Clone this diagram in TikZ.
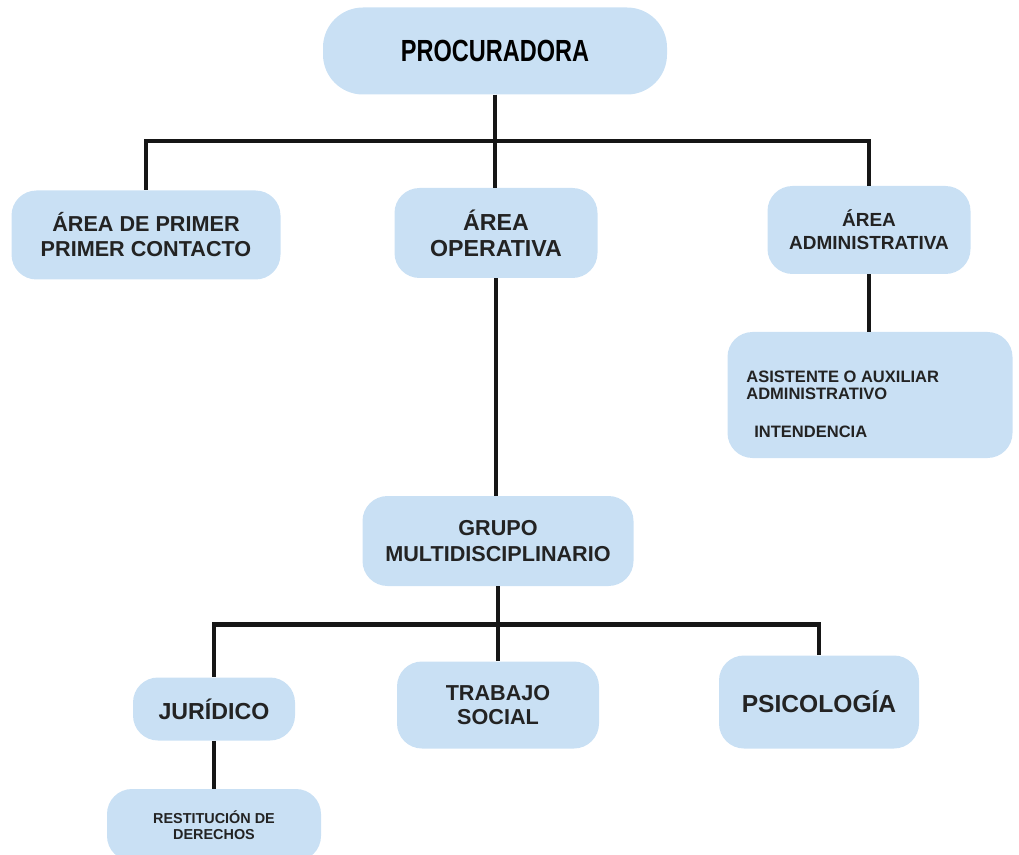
\documentclass[tikz,border=0pt]{standalone}
\usepackage{fontspec}
\setmainfont{Liberation Sans}
\usepackage{graphicx}
\usetikzlibrary{positioning}
\definecolor{cajaazul}{RGB}{201,224,244}
\definecolor{linea}{RGB}{22,22,22}
\definecolor{texto}{RGB}{35,35,35}
\tikzset{
  caja/.style={rectangle, rounded corners=0.5cm, fill=cajaazul, inner sep=0pt, align=center, text=texto},
  rama/.style={line width=2.6pt, draw=linea}
}
\begin{document}
\begin{tikzpicture}[x=0.02cm, y=-0.02cm]
\useasboundingbox (0,0) rectangle (1019,855);
%\fill[white] (0,0) rectangle (1019,855);
\begin{scope}[every node/.style={caja}]
    \node[minimum width=344*0.02cm, minimum height=87*0.02cm, rounded corners=0.8cm,
          font=\fontsize{17.4}{20}\selectfont\bfseries, text=black] (P) at (495,51) {\scalebox{0.77}[1]{PROCURADORA}};

    \node[minimum width=269*0.02cm, minimum height=89*0.02cm,
          font=\fontsize{12.3}{14.2}\selectfont\bfseries] (A) at (146,235) {ÁREA DE PRIMER\\PRIMER CONTACTO};
    \node[minimum width=203*0.02cm, minimum height=90*0.02cm,
          font=\fontsize{13.2}{14.8}\selectfont\bfseries] (B) at (496,233) {ÁREA\\OPERATIVA};
    \node[minimum width=203*0.02cm, minimum height=88*0.02cm,
          font=\fontsize{10.8}{13}\selectfont\bfseries] (C) at (869,230) {ÁREA\\ADMINISTRATIVA};

    \node[minimum width=285*0.02cm, minimum height=126*0.02cm] (S) at (870,395) {};

    \node[minimum width=271*0.02cm, minimum height=90*0.02cm,
          font=\fontsize{12.3}{14.5}\selectfont\bfseries] (G) at (498,541) {GRUPO\\MULTIDISCIPLINARIO};

    \node[minimum width=162*0.02cm, minimum height=63*0.02cm,
          font=\fontsize{13.2}{15}\selectfont\bfseries] (J) at (214,709) {JURÍDICO};
    \node[minimum width=202*0.02cm, minimum height=87*0.02cm,
          font=\fontsize{12.3}{14}\selectfont\bfseries] (T) at (498,705) {TRABAJO\\SOCIAL};
    \node[minimum width=200*0.02cm, minimum height=93*0.02cm,
          font=\fontsize{14}{16}\selectfont\bfseries] (K) at (819,702) {PSICOLOGÍA};

    \node[minimum width=214*0.02cm, minimum height=72*0.02cm,
          font=\fontsize{8.2}{9.2}\selectfont\bfseries] (R) at (214,825) {RESTITUCIÓN DE\\DERECHOS};
\end{scope}

% textos del cuadro administrativo
\node[anchor=north west, align=left, inner sep=0pt, text=texto,
      font=\fontsize{9.4}{9.4}\selectfont\bfseries] (S1) at (746,371) {ASISTENTE O AUXILIAR\\ADMINISTRATIVO};
\node[anchor=west, inner sep=0pt, text=texto,
      font=\fontsize{9.4}{11}\selectfont\bfseries] (S2) at (754,432) {INTENDENCIA};

\begin{scope}[rama]
    \draw (P.south) -- ++(0,46) -| (A.north);
    \draw (P.south) -- ++(0,46) -| (C.north);
    \draw (P.south) -- (P.south |- B.north);
    \draw (C.south) -- (C.south |- S.north);
    \draw (B.south) -- (B.south |- G.north);
    \draw (G.south) -- ++(0,38) -| (J.north);
    \draw (G.south) -- ++(0,38) -| (K.north);
    \draw (G.south) -- (G.south |- T.north);
    \draw (J.south) -- (R.north);
\end{scope}
\end{tikzpicture}
\end{document}
